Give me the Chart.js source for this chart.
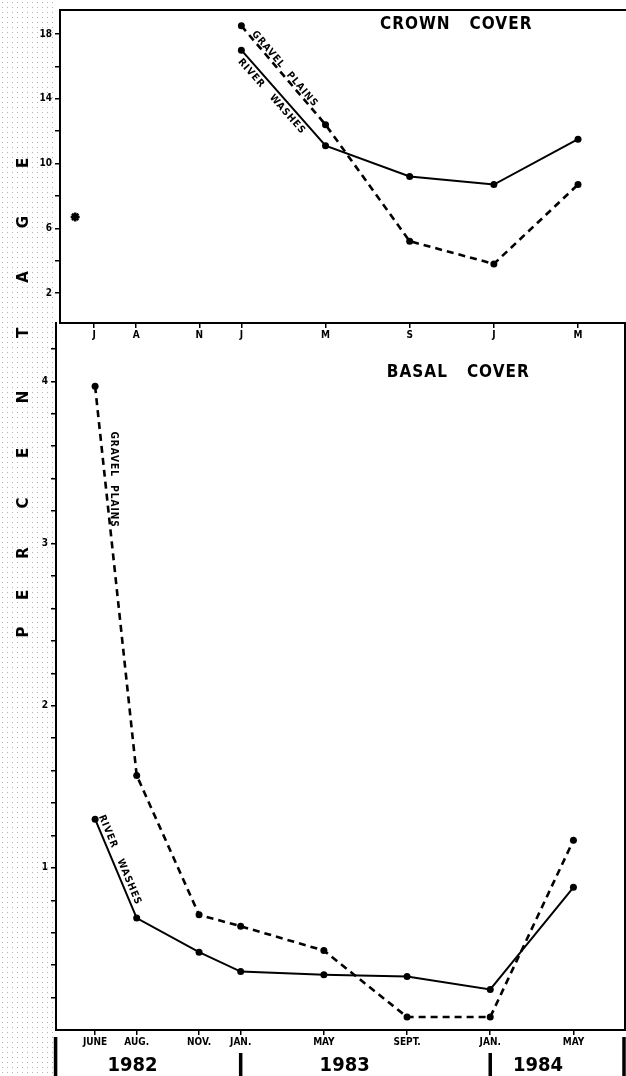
<!DOCTYPE html>
<html><head><meta charset="utf-8">
<script src="https://cdn.jsdelivr.net/npm/chart.js@4.4.1/dist/chart.umd.min.js"></script>
<style>
html,body{margin:0;padding:0;background:#fff;width:626px;height:1076px;overflow:hidden;}
#stipple{position:absolute;left:0;top:0;width:54px;height:1076px;background-image:radial-gradient(circle,#b0b0b0 0.55px,transparent 0.85px);background-size:5px 5px;}
canvas{position:absolute;left:0;top:0;}
</style></head><body>
<div id="stipple"></div>
<canvas id="crown" width="626" height="1076"></canvas>
<canvas id="basal" width="626" height="1076"></canvas>
<script>
// ---- data ----
const monthIndex = [0, 2, 5, 7, 11, 15, 19, 23];          // months since June 1982
const monthLabelsShort = ['J', 'A', 'N', 'J', 'M', 'S', 'J', 'M'];
const monthLabelsLong = ['JUNE', 'AUG.', 'NOV.', 'JAN.', 'MAY', 'SEPT.', 'JAN.', 'MAY'];

const crownMonths = [7, 11, 15, 19, 23];
const crownGravel = [18.5, 12.4, 5.2, 3.8, 8.7];
const crownRiver = [17.0, 11.1, 9.2, 8.7, 11.5];
const crownExtraMonths = [-0.9];
const crownExtraValues = [6.7];

const basalMonths = [0, 2, 5, 7, 11, 15, 19, 23];
const basalGravel = [3.97, 1.57, 0.71, 0.64, 0.49, 0.08, 0.08, 1.17];
const basalRiver = [1.30, 0.69, 0.48, 0.36, 0.34, 0.33, 0.25, 0.88];

const crownTicks = [2, 4, 6, 8, 10, 12, 14, 16, 18];
const crownTickLabels = [2, 6, 10, 14, 18];
const basalTicks = [0.2, 0.4, 0.6, 0.8, 1, 1.2, 1.4, 1.6, 1.8, 2, 2.2, 2.4, 2.6, 2.8, 3, 3.2, 3.4, 3.6, 3.8, 4, 4.2];
const basalTickLabels = [1, 2, 3, 4];

const years = ['1982', '1983', '1984'];
const yearCenters = [1.8, 12, 21.3];
const yearBounds = [-1.9, 7, 19, 25.45];

const yTitleLetters = ['P', 'E', 'R', 'C', 'E', 'N', 'T', 'A', 'G', 'E'];

// ---- style ----
const FONT = "'DejaVu Sans Condensed', 'Liberation Sans Narrow', 'DejaVu Sans', sans-serif";
Chart.defaults.font.family = FONT;
Chart.defaults.color = '#000';
const toXY = (xs, ys) => xs.map((x, i) => ({x: x, y: ys[i]}));

function lineSet(data, dashed) {
  return {
    data: data, borderColor: '#000', backgroundColor: '#000',
    borderWidth: dashed ? 2.6 : 2, borderDash: dashed ? [7, 5] : [],
    pointRadius: 3.5, pointHoverRadius: 3.5, pointBackgroundColor: '#000', pointBorderWidth: 0,
    tension: 0, fill: false
  };
}

function drawAlong(chart, dsIndex, seg, t, off, text, angleOverride) {
  const pts = chart.getDatasetMeta(dsIndex).data;
  const p0 = pts[seg], p1 = pts[seg + 1];
  const ang = angleOverride !== undefined ? angleOverride : Math.atan2(p1.y - p0.y, p1.x - p0.x);
  let cx = p0.x + t * (p1.x - p0.x), cy = p0.y + t * (p1.y - p0.y);
  cx += Math.sin(ang) * off; cy += -Math.cos(ang) * off;
  const ctx = chart.ctx;
  ctx.save();
  ctx.translate(cx, cy); ctx.rotate(ang);
  ctx.font = "bold 10px " + FONT;
  ctx.letterSpacing = '1px';
  ctx.fillStyle = '#000'; ctx.textAlign = 'center'; ctx.textBaseline = 'middle';
  ctx.fillText(text, 0, 0);
  ctx.restore();
}

function drawTitle(chart, text, fx, dy) {
  const a = chart.chartArea, ctx = chart.ctx;
  ctx.save();
  ctx.font = "bold 17px " + FONT;
  ctx.letterSpacing = '1px';
  ctx.fillStyle = '#000'; ctx.textAlign = 'center'; ctx.textBaseline = 'middle';
  ctx.fillText(text, a.left + fx * (a.right - a.left), a.top + dy);
  ctx.restore();
}

const crownPlugin = {
  id: 'crownDeco',
  afterDraw(chart) {
    const a = chart.chartArea, ctx = chart.ctx;
    ctx.save();
    ctx.strokeStyle = '#000'; ctx.lineWidth = 2;
    ctx.beginPath(); ctx.moveTo(a.left - 1, a.top); ctx.lineTo(a.right, a.top); ctx.stroke();
    ctx.restore();
    drawTitle(chart, 'CROWN   COVER', 0.70, 15);
    drawAlong(chart, 0, 0, 0.47, 5, 'GRAVEL  PLAINS');
    drawAlong(chart, 1, 0, 0.43, -8, 'RIVER   WASHES');
    // y-axis title spanning both panels
    const ys = [632, 595, 553, 503, 453, 397, 333, 277, 222, 163];
    ctx.save();
    ctx.font = "bold 15px 'DejaVu Sans', sans-serif";
    ctx.fillStyle = '#000'; ctx.textAlign = 'center'; ctx.textBaseline = 'middle';
    yTitleLetters.forEach((ch, i) => {
      ctx.save(); ctx.translate(24, ys[i]); ctx.rotate(-Math.PI / 2); ctx.fillText(ch, 0, 0); ctx.restore();
    });
    ctx.restore();
  }
};

const basalPlugin = {
  id: 'basalDeco',
  afterDraw(chart) {
    const a = chart.chartArea, ctx = chart.ctx, xs = chart.scales.x;
    ctx.save();
    ctx.strokeStyle = '#000'; ctx.lineWidth = 2;
    ctx.beginPath(); ctx.moveTo(a.right, a.top); ctx.lineTo(a.right, a.bottom + 1); ctx.stroke();
    // year row
    ctx.lineWidth = 3.5;
    yearBounds.forEach((b, i) => {
      const x = Math.min(Math.max(xs.getPixelForValue(b), 2), 624);
      const top = (i === 0 || i === yearBounds.length - 1) ? a.bottom + 7 : a.bottom + 23;
      ctx.beginPath(); ctx.moveTo(x, top); ctx.lineTo(x, 1076); ctx.stroke();
    });
    ctx.font = "bold 20px " + FONT;
    ctx.fillStyle = '#000'; ctx.textAlign = 'center'; ctx.textBaseline = 'middle';
    years.forEach((y, i) => ctx.fillText(y, xs.getPixelForValue(yearCenters[i]), a.bottom + 36));
    ctx.restore();
    drawTitle(chart, 'BASAL   COVER', 0.707, 50);
    drawAlong(chart, 0, 0, 0.24, 9, 'GRAVEL  PLAINS', Math.PI / 2);
    drawAlong(chart, 1, 0, 0.44, 7, 'RIVER   WASHES');
  }
};

function xAxis(min, max, labels, height) {
  return {
    type: 'linear', position: 'bottom', min: min, max: max,
    afterBuildTicks: ax => { ax.ticks = monthIndex.map(v => ({value: v})); },
    afterFit: sc => { sc.height = height; sc.paddingLeft = 0; sc.paddingRight = 0; },
    ticks: { autoSkip: false, maxRotation: 0, padding: 1, font: {size: 10, weight: 'bold'}, color: '#000',
             callback: (v, i) => labels[i] },
    grid: { drawOnChartArea: false, drawTicks: true, tickLength: 5, color: '#000', lineWidth: 1.5 },
    border: { display: true, color: '#000', width: 2 }
  };
}
function yAxis(min, max, ticks, labelled, width) {
  return {
    type: 'linear', min: min, max: max,
    afterBuildTicks: ax => { ax.ticks = ticks.map(v => ({value: v})); },
    afterFit: sc => { sc.width = width; sc.paddingTop = 0; sc.paddingBottom = 0; },
    ticks: { padding: 3, font: {size: 10, weight: 'bold'}, color: '#000',
             callback: v => labelled.some(l => Math.abs(l - v) < 1e-6) ? String(v) : '' },
    grid: { drawOnChartArea: false, drawTicks: true, tickLength: 5, color: '#000', lineWidth: 1.5 },
    border: { display: true, color: '#000', width: 2 }
  };
}

const common = { responsive: false, animation: false, events: [],
  plugins: { legend: {display: false}, tooltip: {enabled: false} } };

new Chart(document.getElementById('crown'), {
  type: 'line',
  data: { datasets: [
    lineSet(toXY(crownMonths, crownGravel), true),
    lineSet(toXY(crownMonths, crownRiver), false),
    { data: toXY(crownExtraMonths, crownExtraValues), showLine: false, pointStyle: 'star',
      pointRadius: 4.5, borderColor: '#000', borderWidth: 2.5, backgroundColor: '#000' }
  ]},
  options: Object.assign({}, common, {
    layout: { autoPadding: false, padding: {top: 10, right: 0, bottom: 726, left: 0} },
    scales: { x: xAxis(-1.62, 25.28, monthLabelsShort, 27), y: yAxis(0.15, 19.48, crownTicks, crownTickLabels, 60) }
  }),
  plugins: [crownPlugin]
});

new Chart(document.getElementById('basal'), {
  type: 'line',
  data: { datasets: [
    lineSet(toXY(basalMonths, basalGravel), true),
    lineSet(toXY(basalMonths, basalRiver), false)
  ]},
  options: Object.assign({}, common, {
    layout: { autoPadding: false, padding: {top: 323, right: 1, bottom: 0, left: 0} },
    scales: { x: xAxis(-1.88, 25.48, monthLabelsLong, 46), y: yAxis(0, 4.36, basalTicks, basalTickLabels, 56) }
  }),
  plugins: [basalPlugin]
});
</script>
</body></html>
